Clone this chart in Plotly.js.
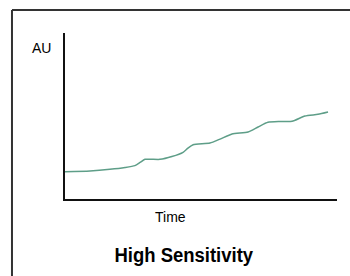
<!DOCTYPE html>
<html>
<head>
<meta charset="utf-8">
<script src="https://cdn.plot.ly/plotly-3.0.1.min.js"></script>
<style>html,body{margin:0;padding:0;background:#fff;}#chart{width:350px;height:276px;}</style>
</head>
<body>
<div id="chart"></div>
<script>
var timeValues = [0, 9.2, 16.5, 22.1, 25.7, 27.6, 29.4, 34.9, 39.3, 43.4, 45.2, 47.1, 53.3, 57.0, 61.4, 67.3, 71.0, 74.6, 79.0, 83.5, 88.2, 93.0, 96.7];
var signalValues = [16.4, 16.9, 17.9, 19.0, 20.1, 22.0, 23.9, 23.9, 25.6, 28.1, 30.7, 32.7, 33.7, 36.1, 39.2, 40.4, 43.4, 46.2, 46.7, 46.8, 50.0, 51.0, 52.4];
var yLabel = "AU";
var xLabel = "Time";
var chartTitle = "High Sensitivity";

var trace = {
  x: timeValues, y: signalValues, type: 'scatter', mode: 'lines',
  line: {color: '#5e9e88', width: 1.5, shape: 'spline', smoothing: 0.6},
  hoverinfo: 'skip'
};
var axisBase = {showline: true, linecolor: '#111111', linewidth: 2, showgrid: false, zeroline: false,
  showticklabels: false, ticks: '', fixedrange: true};
var layout = {
  width: 350, height: 276,
  margin: {l: 65, r: 13, t: 33, b: 77, pad: 0},
  paper_bgcolor: '#ffffff', plot_bgcolor: '#ffffff',
  showlegend: false,
  xaxis: Object.assign({range: [0, 100]}, axisBase),
  yaxis: Object.assign({range: [0, 100]}, axisBase),
  font: {family: 'Liberation Sans, Arial, sans-serif', color: '#000'},
  shapes: [
    {type: 'line', xref: 'paper', yref: 'paper', x0: -0.1949, x1: 1.5, y0: 1.1386, y1: 1.1386, line: {color: '#333333', width: 2}},
    {type: 'line', xref: 'paper', yref: 'paper', x0: -0.1949, x1: -0.1949, y0: 1.1386, y1: -0.6, line: {color: '#333333', width: 2}}
  ],
  annotations: [
    {text: yLabel, xref: 'paper', yref: 'paper', x: -0.0846, y: 0.9096, xanchor: 'center', yanchor: 'middle', showarrow: false,
     font: {size: 14, family: 'Liberation Sans, Arial, sans-serif', color: '#000'}},
    {text: xLabel, xref: 'paper', yref: 'paper', x: 0.3897, y: -0.1084, xanchor: 'center', yanchor: 'middle', showarrow: false,
     font: {size: 14, family: 'Liberation Sans, Arial, sans-serif', color: '#000'}},
    {text: chartTitle, xref: 'paper', yref: 'paper', x: 0.439, y: -0.337, xanchor: 'center', yanchor: 'middle', showarrow: false,
     font: {size: 21, weight: 'bold', family: 'Liberation Sans, Arial, sans-serif', color: '#000'}}
  ]
};
Plotly.newPlot('chart', [trace], layout, {displayModeBar: false, staticPlot: true}).then(function () {
  // emulate the condensed bold face of the original title
  var texts = document.querySelectorAll('.annotation-text');
  var t = texts[texts.length - 1];
  if (t) {
    var bb = t.getBBox();
    var cx = bb.x + bb.width / 2;
    var s = 139 / bb.width;
    t.setAttribute('transform', 'translate(' + cx + ',0) scale(' + s + ',1) translate(' + (-cx) + ',0)');
  }
});
</script>
</body>
</html>
